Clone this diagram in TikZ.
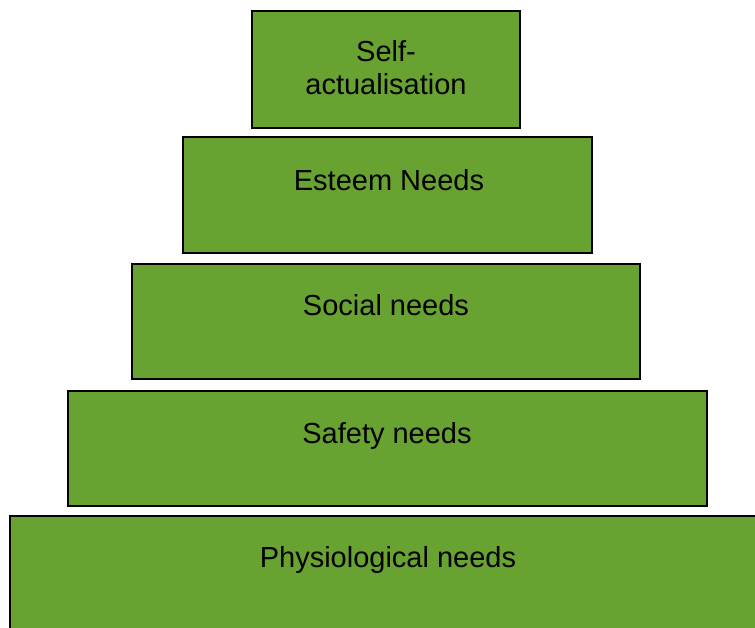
\documentclass[tikz,border=0pt]{standalone}
\usepackage{fontspec}
\setmainfont{Liberation Sans}
\definecolor{boxgreen}{RGB}{104,162,48}
\begin{document}
\begin{tikzpicture}[x=1pt,y=-1pt,
  level/.style={draw=black,line width=2pt,fill=boxgreen,rectangle,inner sep=0pt,outer sep=0pt,anchor=north west},
  lbl/.style={font=\fontsize{29}{33}\selectfont,inner sep=0pt,anchor=base,align=center}]
\useasboundingbox (0,0) rectangle (755,628);
\clip (0,0) rectangle (755,628);
\node[level,minimum width=268pt,minimum height=117pt] (b1) at (252,11) {};
\node[level,minimum width=409pt,minimum height=116pt] (b2) at (183,137) {};
\node[level,minimum width=508pt,minimum height=115pt] (b3) at (132,264) {};
\node[level,minimum width=639pt,minimum height=115pt] (b4) at (68,391) {};
\node[level,minimum width=756pt,minimum height=140pt] (b5) at (10,516) {};
\node[lbl] (t1) at (386,95) {Self-\\actualisation};
\node[lbl] (t2) at (389,191) {Esteem Needs};
\node[lbl] (t3) at (386,316) {Social needs};
\node[lbl] (t4) at (387,443) {Safety needs};
\node[lbl] (t5) at (388,567) {Physiological needs};
\end{tikzpicture}
\end{document}
